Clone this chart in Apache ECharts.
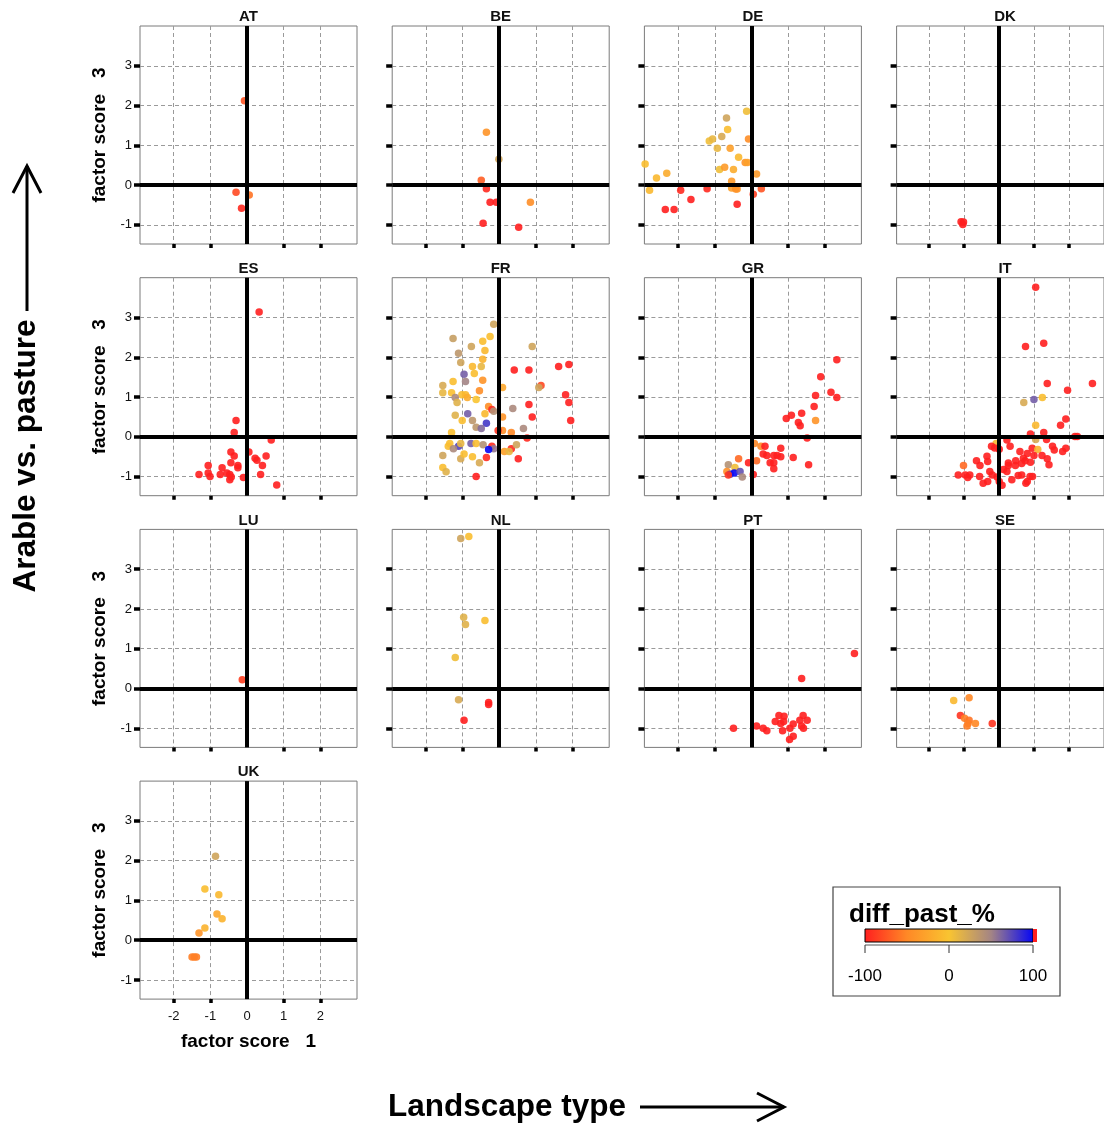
<!DOCTYPE html>
<html>
<head>
<meta charset="utf-8">
<script src="https://cdn.jsdelivr.net/npm/echarts@6/dist/echarts.min.js"></script>
<style>
  html, body { margin: 0; padding: 0; background: #fff; }
  #chart { width: 1104px; height: 1124px; }
</style>
</head>
<body>
<div id="chart"></div>
<script>
// Panels in reading order
const COUNTRIES = ['AT', 'BE', 'DE', 'DK', 'ES', 'FR', 'GR', 'IT', 'LU', 'NL', 'PT', 'SE', 'UK'];

// Each point: [factor score 1, factor score 3, diff_past_%]
const AT = [[-0.07, 2.12, -75], [-0.30, -0.18, -80], [0.06, -0.25, -60], [-0.15, -0.58, -95]];

const BE = [[-0.35, 1.33, -40], [-0.01, 0.65, 25], [-0.49, 0.12, -70], [-0.35, -0.09, -95],
  [-0.25, -0.43, -100], [-0.08, -0.43, -100], [0.85, -0.43, -45], [-0.44, -0.96, -100], [0.53, -1.06, -100]];

const DE = [[-2.90, 0.53, -5], [-2.78, -0.13, -10], [-2.59, 0.18, -10], [-2.31, 0.30, -20],
  [-2.35, -0.61, -100], [-2.11, -0.61, -100], [-1.93, -0.13, -95], [-1.65, -0.36, -100],
  [-1.21, -0.09, -95], [-1.15, 1.11, 5], [-1.06, 1.16, 10], [-0.93, 0.93, 10], [-0.81, 1.22, 20],
  [-0.68, 1.69, 25], [-0.65, 1.40, -5], [-0.13, 1.86, 5], [-0.08, 1.16, -45], [-0.58, 0.93, -30],
  [-0.87, 0.39, 5], [-0.73, 0.45, -35], [-0.49, 0.39, -20], [-0.35, 0.70, -10], [-0.17, 0.57, -40],
  [-0.11, 0.57, -30], [-0.54, 0.10, -35], [-0.54, -0.07, -30], [-0.43, -0.10, -40], [-0.39, -0.10, -40],
  [0.14, 0.28, -35], [0.27, -0.09, -75], [0.05, -0.23, -85], [-0.39, -0.48, -100]];

const DK = [[-1.08, -0.92, -100], [-1.01, -0.93, -100], [-1.03, -0.99, -100]];

const ES = [[0.33, 3.14, -100], [-0.30, 0.41, -100], [-0.35, 0.11, -100], [0.66, -0.08, -100],
  [0.05, -0.38, -100], [-0.44, -0.38, -100], [-0.35, -0.48, -100], [0.22, -0.54, -100],
  [0.27, -0.59, -100], [0.52, -0.48, -100], [0.42, -0.72, -100], [-0.44, -0.65, -100],
  [-0.25, -0.72, -100], [-0.25, -0.78, -100], [-0.68, -0.78, -100], [-1.06, -0.72, -100],
  [-1.06, -0.91, -100], [-1.01, -1.00, -100], [-1.31, -0.95, -100], [-0.73, -0.95, -100],
  [-0.55, -0.91, -100], [-0.47, -0.95, -100], [-0.43, -1.01, -100], [-0.47, -1.08, -100],
  [-0.10, -1.02, -100], [0.37, -0.95, -100], [0.81, -1.21, -100]];

const FR = [[-0.15, 2.83, 25], [-0.25, 2.52, -5], [-1.26, 2.47, 30], [-0.76, 2.27, 25], [-0.45, 2.40, -5],
  [-0.39, 2.17, -10], [-1.11, 2.10, 35], [-0.45, 1.95, -15], [0.90, 2.27, 25], [-1.05, 1.87, 25],
  [-0.73, 1.77, -10], [-0.49, 1.77, 10], [-0.68, 1.59, -5], [-0.96, 1.57, 65], [-0.92, 1.39, 50],
  [-1.26, 1.39, -5], [-1.54, 1.29, 20], [-1.54, 1.11, 10], [-1.30, 1.11, -5], [-0.45, 1.42, -40],
  [-0.54, 1.16, -45], [-1.02, 1.06, -5], [-0.92, 1.06, -10], [-0.87, 0.99, -20], [-0.63, 0.94, 0],
  [-1.20, 0.99, 45], [-1.15, 0.86, 15], [0.41, 1.68, -100], [0.81, 1.68, -100], [1.62, 1.77, -100],
  [1.90, 1.82, -100], [1.14, 1.29, -80], [1.08, 1.24, 25], [1.81, 1.06, -100], [1.90, 0.86, -100],
  [1.95, 0.41, -100], [0.09, 1.24, -25], [0.81, 0.81, -100], [0.90, 0.50, -100], [0.37, 0.71, 45],
  [0.66, 0.21, 45], [-0.29, 0.76, -45], [-0.20, 0.69, -95], [-0.15, 0.64, 40], [-0.39, 0.58, -10],
  [-0.86, 0.58, 65], [-1.20, 0.54, 15], [-1.01, 0.41, -5], [-0.73, 0.41, 35], [-0.35, 0.34, 80],
  [-0.63, 0.24, 35], [-0.49, 0.21, 60], [-1.30, 0.11, -5], [0.09, 0.50, -40], [0.09, 0.16, -45],
  [-0.03, 0.16, -90], [0.33, 0.11, -50], [0.76, -0.03, -95], [-1.35, -0.17, -5], [-1.39, -0.24, -5],
  [-1.11, -0.24, 75], [-1.25, -0.30, 45], [-1.05, -0.17, 10], [-0.77, -0.17, 65], [-0.63, -0.17, -5],
  [-0.44, -0.20, 40], [-0.20, -0.24, -95], [-0.15, -0.30, 55], [-0.29, -0.32, 100], [0.33, -0.30, -95],
  [0.14, -0.37, -30], [0.27, -0.37, 10], [0.47, -0.20, 25], [-1.54, -0.47, 25], [-1.05, -0.55, 20],
  [-0.96, -0.43, -5], [-0.73, -0.50, -5], [-0.35, -0.52, -95], [0.52, -0.55, -100], [-0.54, -0.65, 20],
  [-1.54, -0.77, -5], [-1.45, -0.88, 15], [-0.63, -1.00, -100]];

const GR = [[2.33, 1.94, -100], [1.89, 1.51, -100], [2.17, 1.12, -100], [2.33, 0.99, -100],
  [1.75, 1.04, -100], [1.71, 0.76, -100], [1.37, 0.59, -100], [1.09, 0.54, -100], [0.95, 0.46, -100],
  [1.28, 0.36, -100], [1.33, 0.28, -100], [1.75, 0.41, -40], [1.52, -0.03, -100], [0.08, -0.17, -50],
  [0.26, -0.24, -50], [0.37, -0.24, -100], [0.80, -0.29, -100], [0.32, -0.43, -100], [0.42, -0.47, -100],
  [0.61, -0.47, -100], [0.70, -0.47, -100], [0.80, -0.50, -100], [1.14, -0.52, -100], [0.14, -0.60, -65],
  [0.51, -0.65, -100], [0.61, -0.65, -100], [0.61, -0.80, -100], [1.56, -0.70, -100], [-0.35, -0.55, -65],
  [-0.08, -0.65, -100], [0.05, -0.95, -100], [-0.63, -0.70, 40], [-0.45, -0.77, 5], [-0.67, -0.87, -45],
  [-0.58, -0.94, 75], [-0.47, -0.91, 100], [-0.31, -0.87, 70], [-0.25, -1.01, 45], [-0.63, -0.96, -90]];

const IT = [[1.05, 3.76, -100], [0.76, 2.27, -100], [1.28, 2.35, -100], [1.38, 1.34, -100],
  [2.67, 1.34, -100], [1.96, 1.17, -100], [0.71, 0.86, 20], [1.00, 0.94, 65], [1.24, 0.99, -5],
  [1.91, 0.45, -100], [1.76, 0.29, -100], [1.05, 0.29, -10], [1.28, 0.11, -100], [0.90, 0.07, -100],
  [2.17, 0.01, -100], [2.24, 0.01, -100], [1.05, -0.07, 20], [1.36, -0.07, -100], [0.23, -0.08, -100],
  [-0.08, -0.17, -10], [-0.21, -0.24, -100], [-0.12, -0.28, -100], [0.01, -0.31, -100], [0.32, -0.24, -100],
  [0.95, -0.29, -100], [1.11, -0.32, -15], [1.53, -0.24, -100], [1.58, -0.33, -100], [1.91, -0.29, -100],
  [1.82, -0.37, -100], [0.60, -0.37, -100], [0.81, -0.42, -100], [1.00, -0.47, -100], [1.23, -0.47, -100],
  [1.38, -0.55, -100], [1.43, -0.70, -100], [-0.34, -0.49, -100], [-0.64, -0.60, -100], [-0.32, -0.62, -100],
  [-0.54, -0.72, -100], [-1.01, -0.72, -65], [0.27, -0.66, -100], [0.48, -0.60, -100], [0.70, -0.54, -100],
  [0.75, -0.60, -100], [0.90, -0.64, -100], [0.65, -0.67, -100], [0.47, -0.72, -100], [0.27, -0.72, -100],
  [0.13, -0.82, -100], [0.23, -0.87, -100], [-0.26, -0.87, -100], [-0.19, -0.96, -100], [-0.55, -1.00, -100],
  [-1.16, -0.96, -100], [-0.96, -0.96, -100], [-0.83, -0.96, -100], [-0.89, -1.02, -100], [-0.05, -1.01, -100],
  [0.55, -0.97, -100], [0.65, -0.96, -100], [0.89, -1.00, -100], [0.96, -1.00, -100], [0.37, -1.08, -100],
  [-0.32, -1.12, -100], [-0.45, -1.17, -100], [0.01, -1.12, -100], [0.09, -1.22, -100], [0.77, -1.17, -100],
  [0.81, -1.12, -100]];

const LU = [[-0.13, 0.22, -85]];

const NL = [[-1.05, 3.77, 25], [-0.83, 3.82, -5], [-0.97, 1.79, 15], [-0.92, 1.61, 15], [-0.39, 1.71, -5],
  [-1.20, 0.78, 5], [-1.11, -0.28, 20], [-0.29, -0.35, -100], [-0.29, -0.40, -100], [-0.96, -0.80, -100]];

const PT = [[2.81, 0.88, -100], [1.37, 0.25, -100], [-0.49, -1.00, -100], [0.14, -0.94, -100],
  [0.32, -1.00, -100], [0.42, -1.06, -100], [0.65, -0.83, -100], [0.75, -0.68, -100], [0.89, -0.70, -100],
  [0.80, -0.88, -100], [0.88, -0.83, -100], [0.85, -1.06, -100], [1.05, -1.00, -100], [1.14, -0.89, -100],
  [1.41, -0.68, -100], [1.52, -0.80, -100], [1.32, -0.80, -100], [1.37, -0.94, -100], [1.42, -1.00, -100],
  [1.14, -1.20, -100], [1.04, -1.28, -100]];

const SE = [[-1.29, -0.30, -10], [-0.85, -0.23, -50], [-1.10, -0.68, -90], [-0.98, -0.75, -55],
  [-0.85, -0.80, -60], [-0.88, -0.88, -55], [-0.91, -0.94, -55], [-0.67, -0.88, -50], [-0.19, -0.88, -90]];

const UK = [[-0.86, 2.11, 25], [-1.15, 1.29, -5], [-0.77, 1.14, -10], [-0.82, 0.66, -25], [-0.68, 0.54, -15],
  [-1.15, 0.31, -15], [-1.31, 0.18, -40], [-1.50, -0.42, -55], [-1.38, -0.42, -55], [-1.44, -0.42, -55]];

const PANEL_DATA = [AT, BE, DE, DK, ES, FR, GR, IT, LU, NL, PT, SE, UK];

// Axis extents, ticks and tick labels
const X_RANGE = [-2.92, 3.0];
const Y_RANGE = [-1.48, 4.0];
const X_TICKS = [-2, -1, 1, 2];
const X_TICK_LABELS = [-2, -1, 0, 1, 2];
const Y_TICKS = [-1, 0, 1, 2, 3];
const Y_TICK_LABELS = [-1, 0, 1, 2, 3];
const X_NAME = 'factor score   1';
const Y_NAME = 'factor score   3';

// Colour key
const KEY_TITLE = 'diff_past_%';
const KEY_RANGE = [-100, 100];
const KEY_TICKS = [-100, 0, 100];
const KEY_COLORS = ['#ff1f1f', '#ff8826', '#f9c431', '#a38485', '#0505f5'];

// Outer labels
const ROW_LABEL = 'Arable vs. pasture';
const COL_LABEL = 'Landscape type';

// Layout
const FONT = '"Liberation Sans", Arial, Helvetica, sans-serif';
const NCOL = 4;
const BOX_L0 = 140, BOX_T0 = 26, BOX_W = 217, BOX_H = 218;
const COL_STEP = 252.2, ROW_STEP = 251.7;

const grids = [], xAxes = [], yAxes = [], series = [], graphics = [];

COUNTRIES.forEach((name, i) => {
  const col = i % NCOL, row = Math.floor(i / NCOL);
  const left = BOX_L0 + col * COL_STEP;
  const top = BOX_T0 + row * ROW_STEP;
  const lastRowPanel = i === COUNTRIES.length - 1;

  grids.push({
    left: left, top: top, width: BOX_W, height: BOX_H,
    show: true, borderColor: '#7a7a7a', borderWidth: 1, backgroundColor: 'transparent'
  });

  xAxes.push({
    gridIndex: i, type: 'value', min: X_RANGE[0], max: X_RANGE[1],
    axisLine: { show: false, onZero: false },
    axisTick: { show: true, customValues: X_TICKS, length: 4, lineStyle: { color: '#000', width: 3.5 } },
    axisLabel: {
      show: lastRowPanel, customValues: X_TICK_LABELS, margin: 11,
      fontSize: 13, color: '#111', fontFamily: FONT
    },
    splitLine: { show: true, lineStyle: { color: '#9a9a9a', width: 1, type: [4, 3] } },
    name: lastRowPanel ? X_NAME : '',
    nameLocation: 'middle', nameGap: 33,
    nameTextStyle: { fontSize: 19, fontWeight: 'bold', color: '#000', fontFamily: FONT, verticalAlign: 'top' }
  });

  yAxes.push({
    gridIndex: i, type: 'value', min: Y_RANGE[0], max: Y_RANGE[1],
    axisLine: { show: false, onZero: false },
    axisTick: { show: true, customValues: Y_TICKS, length: 6, lineStyle: { color: '#000', width: 3.5 } },
    axisLabel: {
      show: col === 0, customValues: Y_TICK_LABELS, margin: 8,
      fontSize: 13, color: '#111', fontFamily: FONT
    },
    splitLine: { show: true, lineStyle: { color: '#9a9a9a', width: 1, type: [4, 3] } },
    name: col === 0 ? Y_NAME : '',
    nameLocation: 'middle', nameGap: 31,
    nameTextStyle: { fontSize: 19, fontWeight: 'bold', color: '#000', fontFamily: FONT }
  });

  series.push({
    type: 'scatter', name: name,
    xAxisIndex: i, yAxisIndex: i,
    data: PANEL_DATA[i],
    symbolSize: 7.5,
    itemStyle: { opacity: 0.9 },
    emphasis: { disabled: true },
    markLine: {
      silent: true, symbol: 'none', animation: false,
      label: { show: false },
      lineStyle: { color: '#000', width: 4, type: 'solid' },
      data: [{ xAxis: 0 }, { yAxis: 0 }]
    }
  });

  // panel title
  graphics.push({
    type: 'text', x: left + BOX_W / 2, y: top - 9,
    style: {
      text: name, fill: '#111', font: 'bold 15px ' + FONT,
      textAlign: 'center', align: 'center', textVerticalAlign: 'middle', verticalAlign: 'middle'
    }
  });
});

// Outer axis captions with arrows
graphics.push({
  type: 'text', x: 26, y: 456, rotation: Math.PI / 2,
  style: {
    text: ROW_LABEL, fill: '#000', font: 'bold 31.5px ' + FONT,
    textAlign: 'center', align: 'center', textVerticalAlign: 'middle', verticalAlign: 'middle'
  }
});
graphics.push({
  type: 'polyline', shape: { points: [[27, 311], [27, 166]] },
  style: { stroke: '#000', lineWidth: 3, fill: null }
});
graphics.push({
  type: 'polyline', shape: { points: [[13, 193], [27, 166], [41, 193]] },
  style: { stroke: '#000', lineWidth: 3, fill: null }
});
graphics.push({
  type: 'text', x: 507, y: 1107,
  style: {
    text: COL_LABEL, fill: '#000', font: 'bold 31.5px ' + FONT,
    textAlign: 'center', align: 'center', textVerticalAlign: 'middle', verticalAlign: 'middle'
  }
});
graphics.push({
  type: 'polyline', shape: { points: [[640, 1107], [784, 1107]] },
  style: { stroke: '#000', lineWidth: 3, fill: null }
});
graphics.push({
  type: 'polyline', shape: { points: [[757, 1093], [784, 1107], [757, 1121]] },
  style: { stroke: '#000', lineWidth: 3, fill: null }
});

// Colour key box
const KEY_BOX = { x: 833, y: 887, w: 227, h: 109 };
const BAR = { x: 865, y: 929, w: 168, h: 13 };
const keyX = v => BAR.x + (v - KEY_RANGE[0]) / (KEY_RANGE[1] - KEY_RANGE[0]) * BAR.w;

graphics.push({
  type: 'rect', shape: { x: KEY_BOX.x, y: KEY_BOX.y, width: KEY_BOX.w, height: KEY_BOX.h },
  style: { fill: '#fff', stroke: '#444', lineWidth: 1.2 }
});
graphics.push({
  type: 'text', x: 849, y: 915,
  style: {
    text: KEY_TITLE, fill: '#000', font: 'bold 26px ' + FONT,
    textAlign: 'left', align: 'left', textVerticalAlign: 'middle', verticalAlign: 'middle'
  }
});
graphics.push({
  type: 'rect', shape: { x: BAR.x, y: BAR.y, width: BAR.w, height: BAR.h },
  style: {
    fill: {
      type: 'linear', x: 0, y: 0, x2: 1, y2: 0,
      colorStops: KEY_COLORS.map((c, k) => ({ offset: k / (KEY_COLORS.length - 1), color: c }))
    },
    stroke: '#000', lineWidth: 1
  }
});
graphics.push({
  type: 'rect', shape: { x: BAR.x + BAR.w, y: BAR.y, width: 4, height: BAR.h },
  style: { fill: '#ff2020', stroke: null }
});
graphics.push({
  type: 'line', shape: { x1: BAR.x, y1: BAR.y + BAR.h + 3, x2: BAR.x + BAR.w, y2: BAR.y + BAR.h + 3 },
  style: { stroke: '#555', lineWidth: 1 }
});
KEY_TICKS.forEach(v => {
  const x = keyX(v);
  graphics.push({
    type: 'line', shape: { x1: x, y1: BAR.y + BAR.h + 3, x2: x, y2: BAR.y + BAR.h + 11 },
    style: { stroke: '#333', lineWidth: 1 }
  });
  graphics.push({
    type: 'text', x: x, y: 976,
    style: {
      text: String(v), fill: '#000', font: '17px ' + FONT,
      textAlign: 'center', align: 'center', textVerticalAlign: 'middle', verticalAlign: 'middle'
    }
  });
});

const chart = echarts.init(document.getElementById('chart'), null, { renderer: 'canvas' });
chart.setOption({
  animation: false,
  backgroundColor: '#fff',
  textStyle: { fontFamily: FONT },
  grid: grids,
  xAxis: xAxes,
  yAxis: yAxes,
  visualMap: {
    type: 'continuous', show: false,
    min: KEY_RANGE[0], max: KEY_RANGE[1], dimension: 2,
    inRange: { color: KEY_COLORS }
  },
  series: series,
  graphic: { elements: graphics }
});
</script>
</body>
</html>
